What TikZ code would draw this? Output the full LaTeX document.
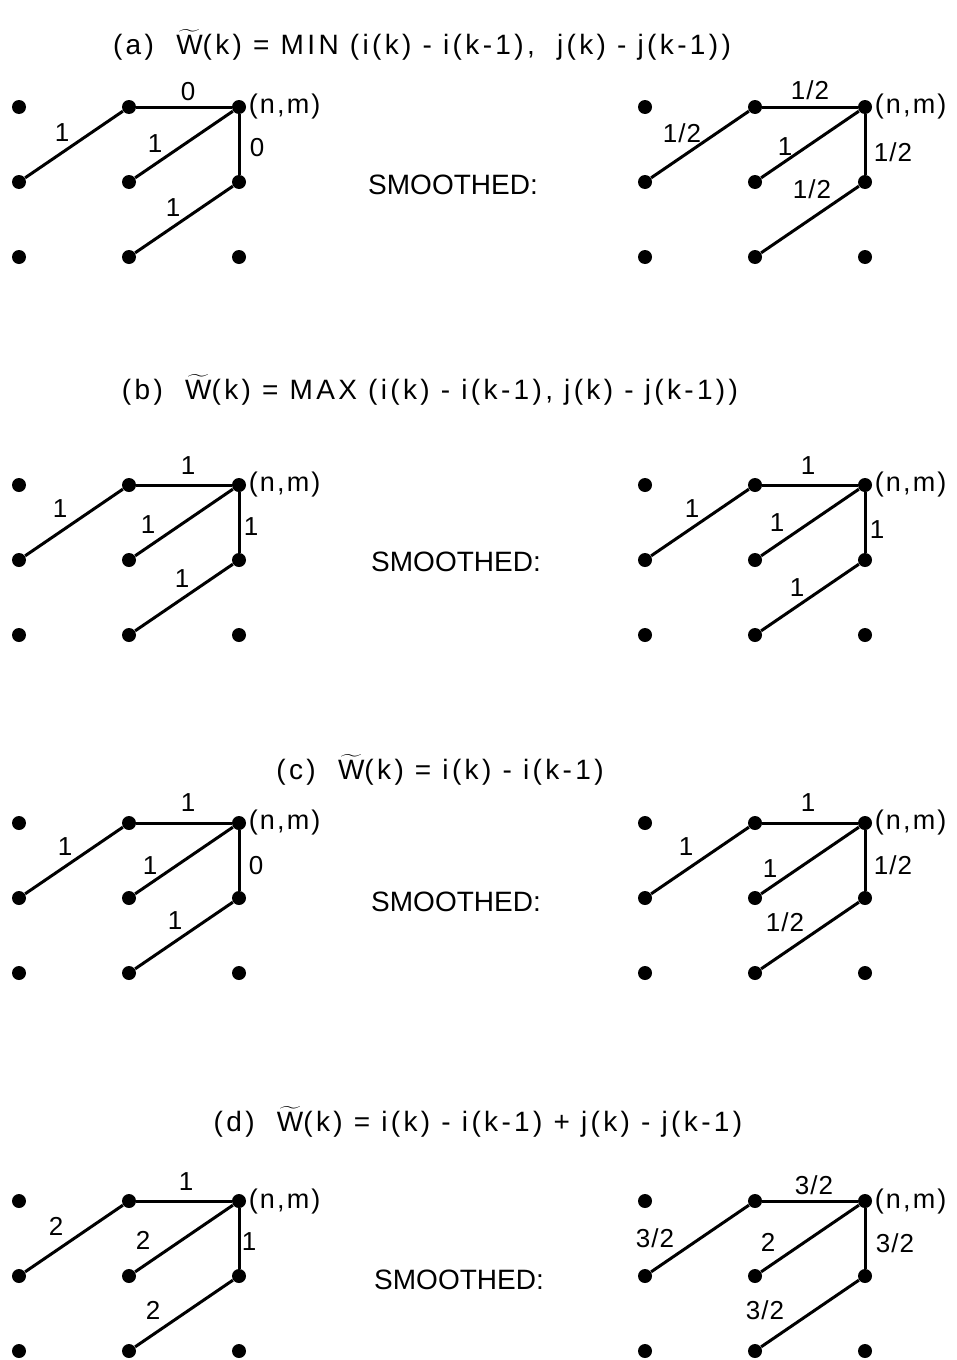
\documentclass[tikz,border=0pt]{standalone}
\usepackage{fontspec}
\setmainfont{Liberation Sans}
\usetikzlibrary{positioning}

\newcommand\Wt{\ensuremath{\widetilde{\mbox{W}}}}
% 3x3 grid of dots, named #1 + column + row, with the (n,m) tag
\newcommand\lattice[3]{%
  \foreach \c in {0,1,2}{\foreach \r in {0,1,2}{
    \node[dot] (#1\c\r) at ({#2+110*\c},{#3+75*\r}) {};}}
  \node[nm,anchor=west] (#1nm) at (#120.east) {(n,m)};}

\tikzset{
  dot/.style={circle,fill,inner sep=0pt,minimum size=7pt},
  link/.style={line width=1.5pt},
  lbl/.style={font=\fontsize{13}{15}\selectfont\addfontfeature{LetterSpace=4},inner sep=1pt},
  nm/.style={font=\fontsize{13.5}{16}\selectfont\addfontfeature{LetterSpace=8},inner sep=1pt},
  head/.style={font=\fontsize{14}{17}\selectfont\addfontfeature{LetterSpace=12}},
  smoothtxt/.style={font=\fontsize{14}{17}\selectfont}
}

\begin{document}
\begin{tikzpicture}[x=0.5pt,y=-0.5pt]
\useasboundingbox (0,0) rectangle (957,1360);

% (a)
\node[head] (ta) at (422,45) {(a)\ \ \Wt(k) = MIN (i(k) - i(k-1),\ \ j(k) - j(k-1))};
\lattice{aL}{19}{107}
\lattice{aR}{645}{107}
\node[smoothtxt] (sa) at (453,185) {SMOOTHED:};
\draw[link] (aL10) -- node[lbl,shift={(-12,-12)}] {1} (aL01);
\draw[link] (aL10) -- node[lbl,shift={(4,-15)}] {0} (aL20);
\draw[link] (aL20) -- node[lbl,shift={(-29,-1)}] {1} (aL11);
\draw[link] (aL20) -- node[lbl,shift={(18,3)}] {0} (aL21);
\draw[link] (aL21) -- node[lbl,shift={(-11,-12)}] {1} (aL12);
\draw[link] (aR10) -- node[lbl,shift={(-18,-11)}] {1/2} (aR01);
\draw[link] (aR10) -- node[lbl,shift={(0,-17)}] {1/2} (aR20);
\draw[link] (aR20) -- node[lbl,shift={(-25,2)}] {1} (aR11);
\draw[link] (aR20) -- node[lbl,shift={(28,8)}] {1/2} (aR21);
\draw[link] (aR21) -- node[lbl,shift={(2,-30)}] {1/2} (aR12);

% (b)
\node[head] (tb) at (430,390) {(b)\ \ \Wt(k) = MAX (i(k) - i(k-1), j(k) - j(k-1))};
\lattice{bL}{19}{485}
\lattice{bR}{645}{485}
\node[smoothtxt] (sb) at (456,562) {SMOOTHED:};
\draw[link] (bL10) -- node[lbl,shift={(-14,-14)}] {1} (bL01);
\draw[link] (bL10) -- node[lbl,shift={(4,-19)}] {1} (bL20);
\draw[link] (bL20) -- node[lbl,shift={(-36,2)}] {1} (bL11);
\draw[link] (bL20) -- node[lbl,shift={(12,4)}] {1} (bL21);
\draw[link] (bL21) -- node[lbl,shift={(-2,-19)}] {1} (bL12);
\draw[link] (bR10) -- node[lbl,shift={(-8,-14)}] {1} (bR01);
\draw[link] (bR10) -- node[lbl,shift={(-2,-19)}] {1} (bR20);
\draw[link] (bR20) -- node[lbl,shift={(-33,0)}] {1} (bR11);
\draw[link] (bR20) -- node[lbl,shift={(12,7)}] {1} (bR21);
\draw[link] (bR21) -- node[lbl,shift={(-13,-10)}] {1} (bR12);

% (c)
\node[head] (tc) at (440,770) {(c)\ \ \Wt(k) = i(k) - i(k-1)};
\lattice{cL}{19}{823}
\lattice{cR}{645}{823}
\node[smoothtxt] (sc) at (456,902) {SMOOTHED:};
\draw[link] (cL10) -- node[lbl,shift={(-9,-14)}] {1} (cL01);
\draw[link] (cL10) -- node[lbl,shift={(4,-20)}] {1} (cL20);
\draw[link] (cL20) -- node[lbl,shift={(-34,5)}] {1} (cL11);
\draw[link] (cL20) -- node[lbl,shift={(17,5)}] {0} (cL21);
\draw[link] (cL21) -- node[lbl,shift={(-9,-15)}] {1} (cL12);
\draw[link] (cR10) -- node[lbl,shift={(-14,-14)}] {1} (cR01);
\draw[link] (cR10) -- node[lbl,shift={(-2,-20)}] {1} (cR20);
\draw[link] (cR20) -- node[lbl,shift={(-40,8)}] {1} (cR11);
\draw[link] (cR20) -- node[lbl,shift={(28,5)}] {1/2} (cR21);
\draw[link] (cR21) -- node[lbl,shift={(-25,-13)}] {1/2} (cR12);

% (d)
\node[head] (td) at (478,1122) {(d)\ \ \Wt(k) = i(k) - i(k-1) + j(k) - j(k-1)};
\lattice{dL}{19}{1201}
\lattice{dR}{645}{1201}
\node[smoothtxt] (sd) at (459,1280) {SMOOTHED:};
\draw[link] (dL10) -- node[lbl,shift={(-18,-12)}] {2} (dL01);
\draw[link] (dL10) -- node[lbl,shift={(2,-19)}] {1} (dL20);
\draw[link] (dL20) -- node[lbl,shift={(-41,2)}] {2} (dL11);
\draw[link] (dL20) -- node[lbl,shift={(10,3)}] {1} (dL21);
\draw[link] (dL21) -- node[lbl,shift={(-31,-3)}] {2} (dL12);
\draw[link] (dR10) -- node[lbl,shift={(-45,0)}] {3/2} (dR01);
\draw[link] (dR10) -- node[lbl,shift={(4,-16)}] {3/2} (dR20);
\draw[link] (dR20) -- node[lbl,shift={(-42,4)}] {2} (dR11);
\draw[link] (dR20) -- node[lbl,shift={(30,5)}] {3/2} (dR21);
\draw[link] (dR21) -- node[lbl,shift={(-45,-3)}] {3/2} (dR12);
\end{tikzpicture}
\end{document}
